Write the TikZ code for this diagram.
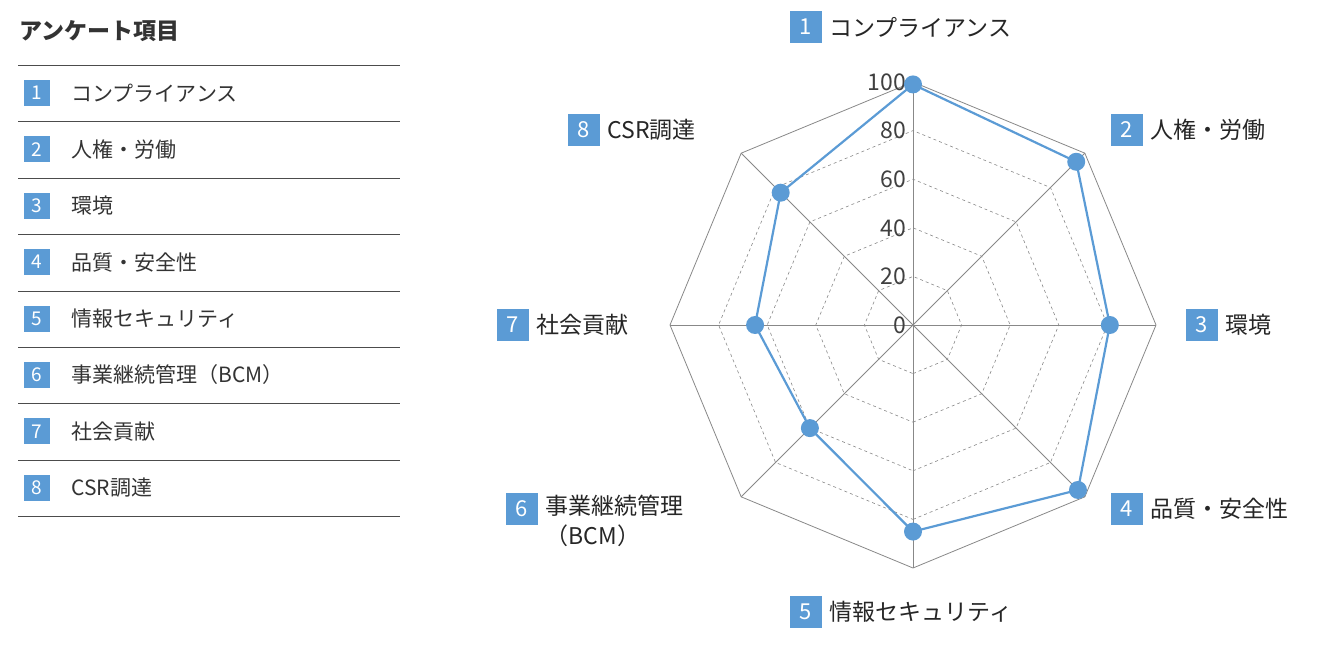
\documentclass[tikz,border=0pt]{standalone}
\usepackage{fontspec}
\setmainfont{Noto Sans CJK JP}
\usetikzlibrary{calc}
\definecolor{bl}{HTML}{5B9BD5}
\definecolor{gr}{HTML}{888888}
\begin{document}
\begin{tikzpicture}[x=1pt,y=-1pt,
  numbox/.style={fill=bl,text=white,minimum size=26pt,inner sep=0pt,font=\fontsize{19}{19}\selectfont},
  bignum/.style={fill=bl,text=white,minimum size=32pt,inner sep=0pt,font=\fontsize{22}{22}\selectfont},
  ltxt/.style={anchor=west,font=\fontsize{21}{21}\selectfont,text=black!80},
  ctxt/.style={anchor=west,font=\fontsize{23}{30}\selectfont,text=black!85},
  axl/.style={anchor=east,font=\fontsize{23}{23}\selectfont,text=black!75,inner sep=1pt}]
\useasboundingbox (0,0) rectangle (1320,645);
% legend
\node[anchor=west,font=\fontsize{23}{23}\selectfont\bfseries,text=black!80] (title) at (16,31) {アンケート項目};
\foreach \y in {65,121,178,234,291,347,403,460,516}{\draw[black!70,line width=0.8pt] (18,\y) -- (400,\y);}
\foreach \i/\t [count=\k] in {1/コンプライアンス,2/人権・労働,3/環境,4/品質・安全性,5/情報セキュリティ,6/事業継続管理（BCM）,7/社会貢献,8/CSR調達}{
  \pgfmathsetmacro\yy{93+(\k-1)*56.4}
  \node[numbox] (lb\i) at (37,\yy) {\i};
  \node[ltxt] (lt\i) at (68,\yy) {\t};
}
% chart
\coordinate (c) at (913,325);
\def\R{2.43}
\foreach \lv in {20,40,60,80}{
  \draw[gr,dashed,line width=0.6pt] ($(c)+(90:{\R*\lv})$) \foreach \a in {45,0,-45,-90,-135,180,135}{ -- ($(c)+(\a:{\R*\lv})$)} -- cycle;
}
\draw[gr,line width=0.8pt] ($(c)+(90:243)$) \foreach \a in {45,0,-45,-90,-135,180,135}{ -- ($(c)+(\a:243)$)} -- cycle;
\foreach \a [count=\k] in {90,45,0,-45,-90,-135,180,135}{
  \coordinate (v\k) at ($(c)+(\a:243)$);
  \draw[gr,line width=0.8pt] (c) -- (v\k);
}
\foreach \v in {0,20,40,60,80,100}{
  \node[axl] (ax\v) at ($(c)+(-6,{-\R*\v})$) {\v};
}
\foreach \a/\v [count=\k] in {90/85,45/96,0/81,-45/95,-90/99,-135/77,180/65,135/60}{
  \coordinate (p\k) at ($(c)+(\a:{\R*\v})$);
}
\draw[bl,line width=2.2pt,line join=round] (p1)--(p2)--(p3)--(p4)--(p5)--(p6)--(p7)--(p8)--cycle;
\foreach \k in {1,...,8}{\fill[bl] (p\k) circle (9);}
% chart labels
\node[bignum] (n1) at (806,27) {1}; \node[ctxt] (t1) at (826,27) {コンプライアンス};
\node[bignum] (n2) at (1127,130) {2}; \node[ctxt] (t2) at (1147,130) {人権・労働};
\node[bignum] (n3) at (1202,325) {3}; \node[ctxt] (t3) at (1222,325) {環境};
\node[bignum] (n4) at (1127,509) {4}; \node[ctxt] (t4) at (1147,509) {品質・安全性};
\node[bignum] (n5) at (806,612) {5}; \node[ctxt] (t5) at (826,612) {情報セキュリティ};
\node[bignum] (n6) at (522,509) {6}; \node[ctxt,align=left,anchor=north west] (t6) at (542,492) {事業継続管理\\（BCM）};
\node[bignum] (n7) at (513,325) {7}; \node[ctxt] (t7) at (533,325) {社会貢献};
\node[bignum] (n8) at (584,130) {8}; \node[ctxt] (t8) at (604,130) {CSR調達};
\end{tikzpicture}
\end{document}
